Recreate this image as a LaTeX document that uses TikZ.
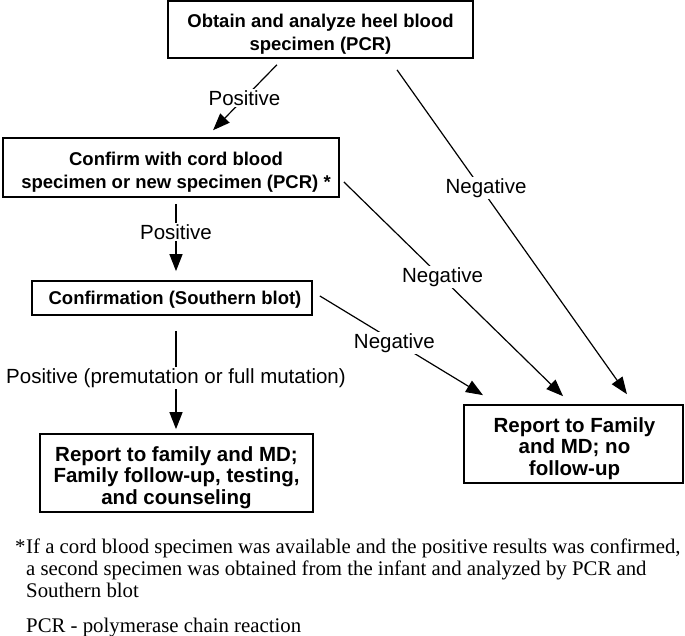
\documentclass[tikz,border=0pt]{standalone}
\usepackage{fontspec}
\setmainfont{Liberation Serif}
\newfontfamily\arial{Liberation Sans}
\usetikzlibrary{arrows.meta}
\begin{document}
\begin{tikzpicture}[x=1pt,y=-1pt,
 box/.style={draw, line width=1.7pt, rectangle, inner sep=0pt},
 btext/.style={inner sep=0pt, align=center, font=\arial\bfseries\fontsize{18.5}{23}\selectfont},
 bigtext/.style={btext, font=\arial\bfseries\fontsize{20.5}{21.5}\selectfont},
 arr/.style={line width=1.2pt, -{Triangle[length=17pt,width=13pt]}},
 lab/.style={fill=white, inner sep=1.5pt, font=\arial\fontsize{20.5}{24}\selectfont},
 note/.style={font=\fontsize{20.8}{24}\selectfont, inner sep=0pt, anchor=base west}
]
\useasboundingbox (0,0) rectangle (685,635);
\node[box, minimum width=305pt, minimum height=57pt] (b1) at (320.5,29.5) {};
\node[btext] (t1) at (320.5,34) {Obtain and analyze heel blood\\specimen (PCR)};
\node[box, minimum width=336pt, minimum height=59pt] (b2) at (171,167.5) {};
\node[btext] (t2) at (176,172) {Confirm with cord blood\\specimen or new specimen (PCR) *};
\node[box, minimum width=280pt, minimum height=34pt] (b3) at (172,298) {};
\node[btext] (t3) at (175,300) {Confirmation (Southern blot)};
\node[box, minimum width=273pt, minimum height=78pt] (b4) at (176.5,473) {};
\node[bigtext] (t4) at (176.5,477.5) {Report to family and MD;\\Family follow-up, testing,\\and counseling};
\node[box, minimum width=219pt, minimum height=78pt] (b5) at (573.5,444) {};
\node[bigtext] (t5) at (574.5,448.5) {Report to Family\\and MD; no\\follow-up};

\draw[arr, shorten <=8.3pt, shorten >=9.7pt] ([xshift=-37.8pt]b1.south) -- node[lab, pos=0.5] (l1) {Positive} ([xshift=35.3pt]b2.north);
\draw[arr, shorten <=13.5pt, shorten >=12.2pt] ([xshift=68.7pt]b1.south) -- node[lab, pos=0.375, xshift=5pt] (l2) {Negative} ([xshift=60.5pt]b5.north);
\draw[arr, shorten <=5.6pt, shorten >=11.4pt] ([yshift=-10.5pt]b2.east) -- node[lab, pos=0.444, yshift=1.5pt] (l3) {Negative} ([xshift=-2.3pt]b5.north);
\draw[arr, shorten <=8.2pt, shorten >=17.3pt] ([yshift=6.3pt]b3.east) -- node[lab, pos=0.441, yshift=-2pt] (l4) {Negative} ([xshift=-75.7pt]b5.north);
\draw[arr, shorten <=6pt, shorten >=9pt] ([xshift=5pt]b2.south) -- node[lab, pos=0.417] (l5) {Positive} ([xshift=4pt]b3.north);
\draw[arr, shorten <=15pt, shorten >=4pt] ([xshift=4pt]b3.south) -- node[lab, pos=0.53] (l6) {Positive (premutation or full mutation)} ([xshift=-0.5pt]b4.north);

\node[note] (star) at (15,553) {*};
\node[note] (f1) at (26,553) {If a cord blood specimen was available and the positive results was confirmed,};
\node[note] (f2) at (26,575) {a second specimen was obtained from the infant and analyzed by PCR and};
\node[note] (f3) at (26,597) {Southern blot};
\node[note] (f4) at (26,632) {PCR - polymerase chain reaction};
\end{tikzpicture}
\end{document}
